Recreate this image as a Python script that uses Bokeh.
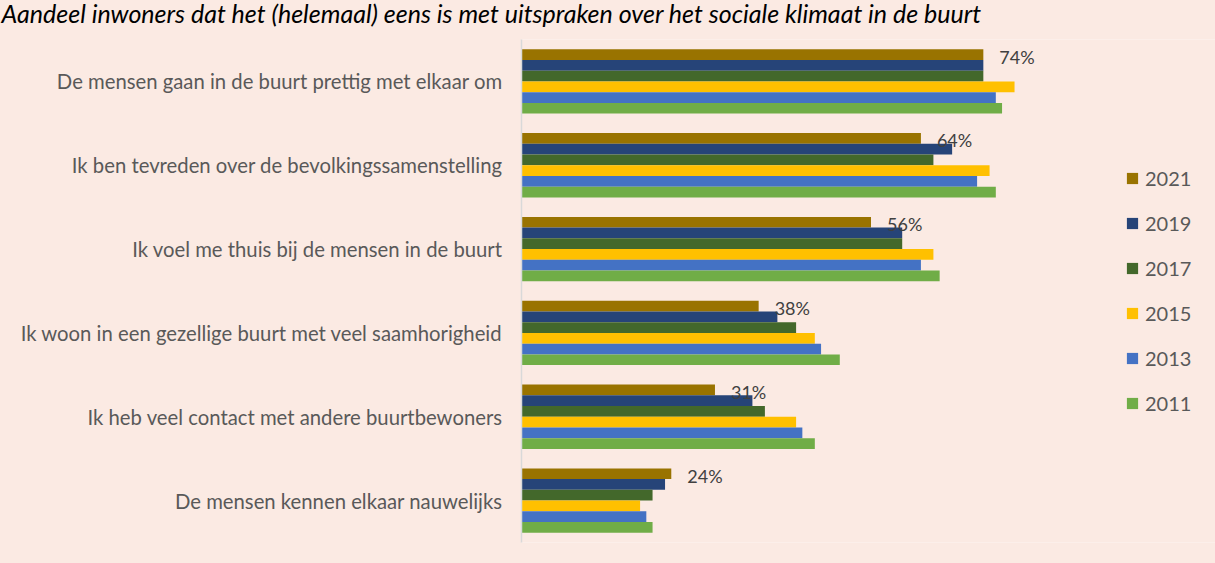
from bokeh.plotting import figure
from bokeh.models import (FactorRange, Range1d, Legend, LegendItem, Title,
                          ColumnDataSource)
from bokeh.transform import dodge
from bokeh.core.properties import value
from bokeh.embed import file_html
from bokeh.resources import INLINE

title_text = ("Aandeel inwoners dat het (helemaal) eens is met uitspraken "
              "over het sociale klimaat in de buurt")

categories = [
    "De mensen gaan in de buurt prettig met elkaar om",
    "Ik ben tevreden over de bevolkingssamenstelling",
    "Ik voel me thuis bij de mensen in de buurt",
    "Ik woon in een gezellige buurt met veel saamhorigheid",
    "Ik heb veel contact met andere buurtbewoners",
    "De mensen kennen elkaar nauwelijks",
]
years = ["2021", "2019", "2017", "2015", "2013", "2011"]
v2021 = [74, 64, 56, 38, 31, 24]
v2019 = [74, 69, 61, 41, 37, 23]
v2017 = [74, 66, 61, 44, 39, 21]
v2015 = [79, 75, 66, 47, 44, 19]
v2013 = [76, 73, 64, 48, 45, 20]
v2011 = [77, 76, 67, 51, 47, 21]
labels2021 = [f"{v}%" for v in v2021]

colors = ["#997300", "#264478", "#43682B", "#FFC000", "#4472C4", "#70AD47"]
PINK = "#FBEAE3"
FONT = "Lato"

src = ColumnDataSource(dict(cat=categories, y2021=v2021, y2019=v2019, y2017=v2017,
                            y2015=v2015, y2013=v2013, y2011=v2011, lab=labels2021))

p = figure(width=1223, height=579,
           y_range=FactorRange(factors=categories[::-1], range_padding=0),
           x_range=Range1d(0, 111.2),
           output_backend="svg", toolbar_location=None, x_axis_location=None,
           min_border_left=529, min_border_right=0, min_border_top=54,
           min_border_bottom=21, margin=(-16, 0, 0, -8))
p.background_fill_color = PINK
p.border_fill_color = PINK
p.outline_line_color = None
p.xgrid.visible = False
p.ygrid.visible = False

p.title = Title(text=title_text, align="left", offset=-520, standoff=23,
                text_font=FONT, text_font_style="italic", text_font_size="25px",
                text_color="black")

ax = p.yaxis[0]
ax.axis_line_color = "#D9D9D9"
ax.axis_line_width = 1.5
ax.major_tick_line_color = None
ax.minor_tick_line_color = None
ax.major_tick_out = 0
ax.major_tick_in = 0
ax.major_label_standoff = 19
ax.major_label_text_font = FONT
ax.major_label_text_font_size = "20.3px"
ax.major_label_text_color = "#595959"

bw = 0.128
items = []
for j, yr in enumerate(years):
    off = (2.5 - j) * bw
    r = p.hbar(y=dodge("cat", off, range=p.y_range), left=0, right="y" + yr,
               height=bw, source=src, fill_color=colors[j], line_color=None)
    items.append(LegendItem(label=yr, renderers=[r]))

p.text(x="y2021", y=dodge("cat", 2.5 * bw, range=p.y_range), text="lab",
       source=src, x_offset=16, y_offset=2, text_align="left",
       text_baseline="middle", text_font=value(FONT), text_font_size="18px",
       text_color="#404040")

# legend: location is its bottom-left corner, relative to the frame
legend = Legend(items=items, location=(604, 127), orientation="vertical",
                glyph_width=14, glyph_height=14, label_height=20, spacing=21,
                padding=0, margin=0, border_line_color=None,
                background_fill_alpha=0, label_standoff=6,
                label_text_font=FONT, label_text_font_size="20px",
                label_text_color="#595959")
p.add_layout(legend)

open("out.html", "w").write(file_html(p, INLINE))
